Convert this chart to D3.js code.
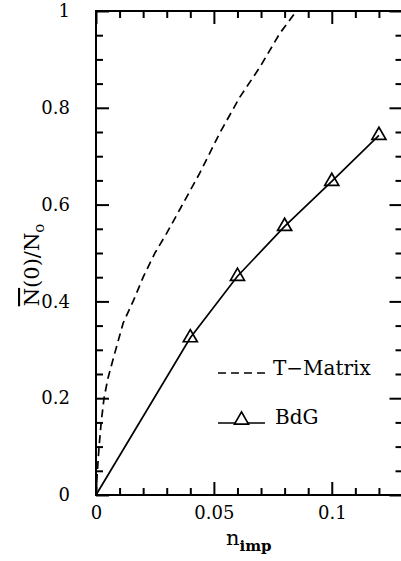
<!DOCTYPE html>
<html>
<head>
  <meta charset="utf-8">
  <script src="https://cdnjs.cloudflare.com/ajax/libs/d3/7.8.5/d3.min.js"></script>
  <style>
    body { margin: 0; background: #fff; }
    text { font-family: "DejaVu Serif", serif; fill: #000; }
  </style>
</head>
<body>
  <div id="chart"></div>

  <script>
    // T-Matrix curve (dashed)
    const tmatrixX = [0, 0.0006, 0.0013, 0.0022, 0.0034, 0.005, 0.0075, 0.0115, 0.016, 0.02, 0.025, 0.03, 0.036, 0.044, 0.0525, 0.061, 0.0695, 0.078, 0.085];
    const tmatrixY = [0, 0.05, 0.1, 0.15, 0.2, 0.24, 0.285, 0.355, 0.403, 0.45, 0.5, 0.541, 0.594, 0.665, 0.748, 0.822, 0.884, 0.954, 1.0];

    // BdG points (triangles)
    const bdgX = [0, 0.04, 0.06, 0.08, 0.1, 0.12];
    const bdgY = [0, 0.325, 0.452, 0.555, 0.648, 0.743];

    const xTicks = [0, 0.05, 0.1];
    const xTickLabels = ['0', '0.05', '0.1'];
    const xMinor = [0.01, 0.02, 0.03, 0.04, 0.06, 0.07, 0.08, 0.09, 0.11, 0.12];
    const yTicks = [0, 0.2, 0.4, 0.6, 0.8, 1];
    const yTickLabels = ['0', '0.2', '0.4', '0.6', '0.8', '1'];
    const yMinor = [0.05, 0.1, 0.15, 0.25, 0.3, 0.35, 0.45, 0.5, 0.55, 0.65, 0.7, 0.75, 0.85, 0.9, 0.95];

    const width = 401;
    const height = 561;

    const svg = d3.select('#chart').append('svg')
      .attr('width', width)
      .attr('height', height);

    const x = d3.scaleLinear().domain([0, 0.13]).range([96, 402.5]);
    const y = d3.scaleLinear().domain([0, 1]).range([495, 11]);

    const MAJOR = 13;
    const MINOR = 7;

    function styleAxis(g) {
      g.select('.domain').remove();
      g.selectAll('line').attr('stroke', '#000').attr('stroke-width', 2);
    }

    // axes with inward ticks on all four sides
    svg.append('g').attr('transform', `translate(0,${y(0)})`)
      .call(d3.axisBottom(x).tickValues(xTicks).tickSize(-MAJOR).tickPadding(8)
        .tickFormat((d, i) => xTickLabels[i]))
      .call(styleAxis)
      .call(g => g.selectAll('text').attr('font-size', 18).attr('dy', '0.9em')
        .style('font-family', '"DejaVu Serif", serif').attr('fill', '#000'));
    svg.append('g').attr('transform', `translate(0,${y(0)})`)
      .call(d3.axisBottom(x).tickValues(xMinor).tickSize(-MINOR).tickFormat(''))
      .call(styleAxis);
    svg.append('g').attr('transform', `translate(0,${y(1)})`)
      .call(d3.axisTop(x).tickValues(xTicks).tickSize(-MAJOR).tickFormat(''))
      .call(styleAxis);
    svg.append('g').attr('transform', `translate(0,${y(1)})`)
      .call(d3.axisTop(x).tickValues(xMinor).tickSize(-MINOR).tickFormat(''))
      .call(styleAxis);

    svg.append('g').attr('transform', `translate(${x(0)},0)`)
      .call(d3.axisLeft(y).tickValues(yTicks).tickSize(-MAJOR).tickPadding(26)
        .tickFormat((d, i) => yTickLabels[i]))
      .call(styleAxis)
      .call(g => g.selectAll('text').attr('font-size', 18)
        .style('font-family', '"DejaVu Serif", serif').attr('fill', '#000'));
    svg.append('g').attr('transform', `translate(${x(0)},0)`)
      .call(d3.axisLeft(y).tickValues(yMinor).tickSize(-MINOR).tickFormat(''))
      .call(styleAxis);
    svg.append('g').attr('transform', `translate(${x(0.13)},0)`)
      .call(d3.axisRight(y).tickValues(yTicks).tickSize(-MAJOR).tickFormat(''))
      .call(styleAxis);
    svg.append('g').attr('transform', `translate(${x(0.13)},0)`)
      .call(d3.axisRight(y).tickValues(yMinor).tickSize(-MINOR).tickFormat(''))
      .call(styleAxis);

    // frame
    svg.append('rect')
      .attr('x', x(0)).attr('y', y(1))
      .attr('width', x(0.13) - x(0)).attr('height', y(0) - y(1))
      .attr('fill', 'none').attr('stroke', '#000').attr('stroke-width', 2);

    // axis titles
    const xt = svg.append('text')
      .attr('x', 226).attr('y', 545).attr('font-size', 21);
    xt.append('tspan').text('n');
    xt.append('tspan').attr('dy', 6).attr('font-size', 15).attr('font-weight', 'bold').text('imp');

    const yt = svg.append('text')
      .attr('transform', 'translate(39,265) rotate(-90)')
      .attr('text-anchor', 'middle').attr('font-size', 21);
    yt.append('tspan').attr('text-decoration', 'overline').text('N');
    yt.append('tspan').text('(0)/N');
    yt.append('tspan').attr('dy', 5).attr('font-size', 15).text('o');

    // curves
    const line = d3.line().x(d => x(d[0])).y(d => y(d[1]));

    svg.append('clipPath').attr('id', 'clip')
      .append('rect').attr('x', x(0)).attr('y', y(1)).attr('width', x(0.13) - x(0)).attr('height', y(0) - y(1));

    svg.append('path')
      .datum(d3.zip(tmatrixX, tmatrixY))
      .attr('d', line)
      .attr('clip-path', 'url(#clip)')
      .attr('fill', 'none').attr('stroke', '#000').attr('stroke-width', 1.7)
      .attr('stroke-dasharray', '8,5');

    const bdg = d3.zip(bdgX, bdgY);
    svg.append('path')
      .datum(bdg)
      .attr('d', line)
      .attr('fill', 'none').attr('stroke', '#000').attr('stroke-width', 1.7);

    const tri = d3.symbol().type(d3.symbolTriangle).size(85);
    svg.append('g').selectAll('path').data(bdg.slice(1)).join('path')
      .attr('d', tri)
      .attr('transform', d => `translate(${x(d[0])},${y(d[1])})`)
      .attr('fill', 'none').attr('stroke', '#000').attr('stroke-width', 1.7);

    // legend
    const leg = svg.append('g');
    leg.append('line').attr('x1', 218).attr('x2', 265).attr('y1', 373).attr('y2', 373)
      .attr('stroke', '#000').attr('stroke-width', 1.7).attr('stroke-dasharray', '8,5');
    leg.append('text').attr('x', 273).attr('y', 375).attr('font-size', 20).text('T\u2212Matrix');

    leg.append('line').attr('x1', 218).attr('x2', 265).attr('y1', 423).attr('y2', 423)
      .attr('stroke', '#000').attr('stroke-width', 1.7);
    leg.append('path').attr('d', tri).attr('transform', 'translate(241.5,420)')
      .attr('fill', '#fff').attr('stroke', '#000').attr('stroke-width', 1.7);
    leg.append('text').attr('x', 275).attr('y', 424).attr('font-size', 20).text('BdG');
  </script>
</body>
</html>
